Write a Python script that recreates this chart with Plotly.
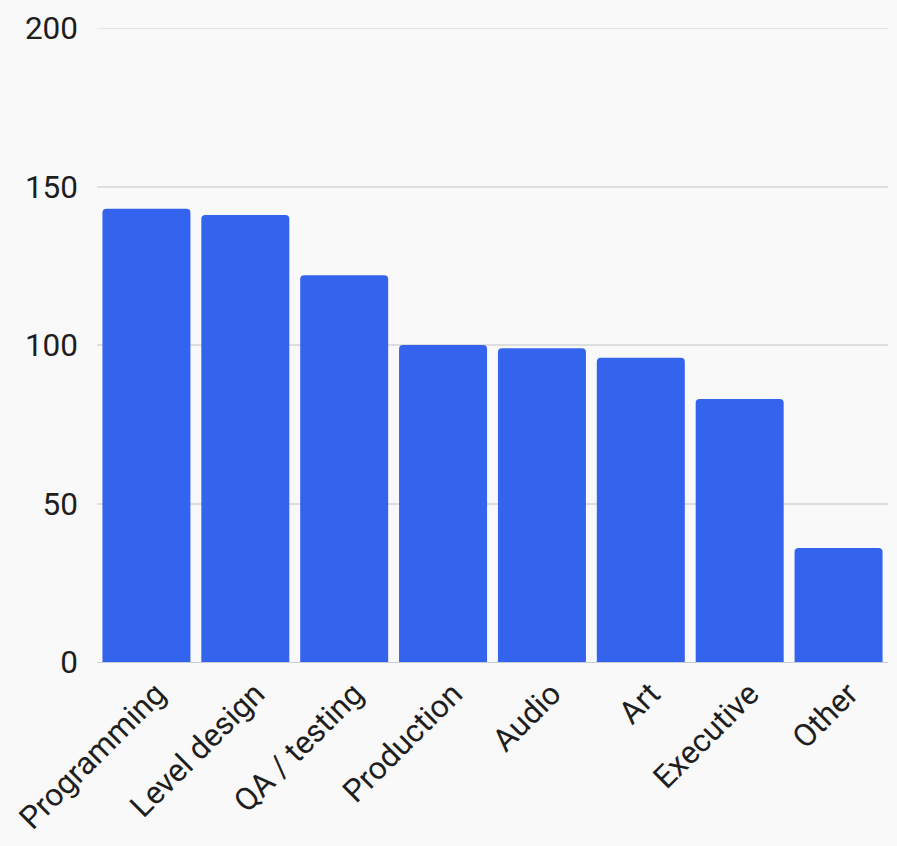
import plotly.graph_objects as go

categories = ["Programming", "Level design", "QA / testing", "Production",
              "Audio", "Art", "Executive", "Other"]
values = [143, 141, 122, 100, 99, 96, 83, 36]
y_ticks = [0, 50, 100, 150, 200]

fig = go.Figure(go.Bar(
    x=categories, y=values,
    marker=dict(color="#3464EE", cornerradius=4, line=dict(width=0)),
))

fig.update_layout(
    width=897, height=846,
    margin=dict(l=97, r=9, t=28, b=184),
    paper_bgcolor="#F9F9F9", plot_bgcolor="#F9F9F9",
    bargap=0.11,
    showlegend=False,
    font=dict(family="Roboto", size=31.5, color="#1E1E1E"),
)
# top gridline at 200 (plotly omits gridlines on the range edge)
fig.add_shape(type="line", xref="paper", yref="y", x0=0, x1=1, y0=200, y1=200,
              line=dict(color="#DEDEDE", width=1.5), layer="below")
fig.update_xaxes(tickangle=-45, showgrid=False, showline=False, ticks="",
                 tickfont=dict(size=31.5), ticklabelshift=10, ticklabelstandoff=6)
fig.update_yaxes(range=[0, 200], tickvals=y_ticks, showgrid=True,
                 gridcolor="#DEDEDE", gridwidth=1.5, zeroline=True,
                 zerolinecolor="#C8CCD8", zerolinewidth=1,
                 ticks="", ticklabelstandoff=18, tickfont=dict(size=31.5))

fig.write_html("out.html")
